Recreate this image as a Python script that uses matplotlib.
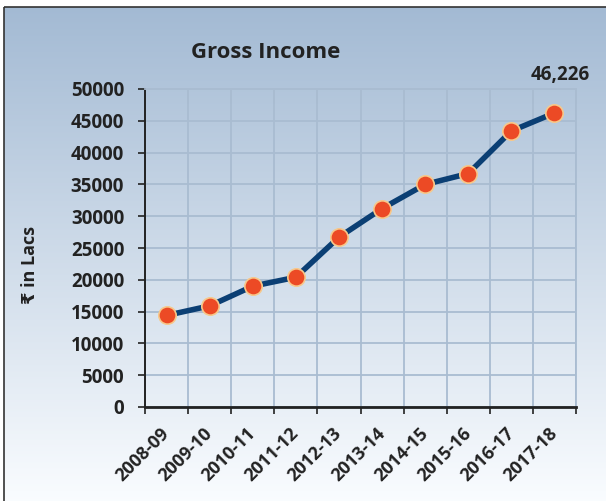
import numpy as np
import matplotlib.pyplot as plt
from matplotlib.patches import Rectangle

# --- data ---
years = ["2008-09", "2009-10", "2010-11", "2011-12", "2012-13",
         "2013-14", "2014-15", "2015-16", "2016-17", "2017-18"]
gross_income = [14400, 15900, 19000, 20400, 26700,
                31200, 35000, 36700, 43400, 46226]
y_ticks = [0, 5000, 10000, 15000, 20000, 25000, 30000, 35000, 40000, 45000, 50000]

font_main = ["Open Sans", "DejaVu Sans"]
plt.rcParams["font.family"] = font_main
txt_c = "#222222"

W, H = 606, 501
fig = plt.figure(figsize=(W / 100, H / 100), dpi=100)

# background gradient panel with frame
bg = fig.add_axes([0, 0, 1, 1], zorder=-10)
bg.set_xlim(0, W)
bg.set_ylim(H, 0)
bg.axis("off")
top_c = np.array([0.64, 0.73, 0.83])
bot_c = np.array([0.98, 0.99, 1.0])
t = np.linspace(0, 1, 256)[:, None]
grad = (top_c * (1 - t) + bot_c * t)[:, None, :]
bg.imshow(grad, extent=[4, W + 2, H + 2, 7], aspect="auto")
bg.add_patch(Rectangle((4, 7), W, H, fill=False, edgecolor="#333333", lw=1.2))

# main axes
left, right, top, bottom = 145, 576, 89, 407
ax = fig.add_axes([left / W, 1 - bottom / H, (right - left) / W, (bottom - top) / H])
ax.patch.set_alpha(0)

x = np.arange(len(years))
ax.plot(x, gross_income, color="#0b3f74", lw=4, zorder=3,
        marker="o", ms=12.5, markerfacecolor="#ec4a25",
        markeredgecolor="#f7c88a", markeredgewidth=1.2)

ax.set_xlim(-0.5, len(years) - 0.5)
ax.set_ylim(0, 50000)

# category boundaries as major ticks/grid, labels at centers
ax.set_xticks(np.arange(-0.5, len(years), 1.0))
ax.set_xticklabels([])
ax.set_xticks(x, minor=True)
ax.set_xticklabels(years, minor=True, rotation=45, ha="right", va="center",
                   rotation_mode="anchor", fontsize=13, fontweight="bold", color=txt_c)
ax.tick_params(axis="x", which="minor", length=0, pad=17)
ax.tick_params(axis="x", which="major", length=5, width=1.2, direction="out", color=txt_c)

ax.set_yticks(y_ticks)
ax.set_yticklabels([str(v) for v in y_ticks], fontsize=13.5, fontweight="bold", color=txt_c)
ax.tick_params(axis="y", length=5, width=1.2, direction="out", color=txt_c, pad=10)

ax.grid(True, which="major", color="#a9bcd1", lw=1.3, zorder=0)
ax.set_axisbelow(True)

for s in ["top", "right"]:
    ax.spines[s].set_color("#a9bcd1")
    ax.spines[s].set_linewidth(1.3)
ax.spines["left"].set_color(txt_c)
ax.spines["bottom"].set_color(txt_c)
ax.spines["left"].set_linewidth(1.4)
ax.spines["bottom"].set_linewidth(2.0)

ax.set_ylabel("₹ in Lacs", fontsize=13, fontweight="bold", color=txt_c)
ax.yaxis.set_label_coords(-0.247, 0.447)

fig.text(266 / W, 1 - 52 / H, "Gross Income", ha="center", va="center",
         fontsize=16, fontweight="bold", color=txt_c)

ax.annotate(f"{gross_income[-1]:,}", (x[-1], gross_income[-1]), xytext=(4, 20),
            textcoords="offset points", ha="center", va="bottom",
            fontsize=13.5, fontweight="bold", color=txt_c)

fig.savefig("out.png", dpi=100)
